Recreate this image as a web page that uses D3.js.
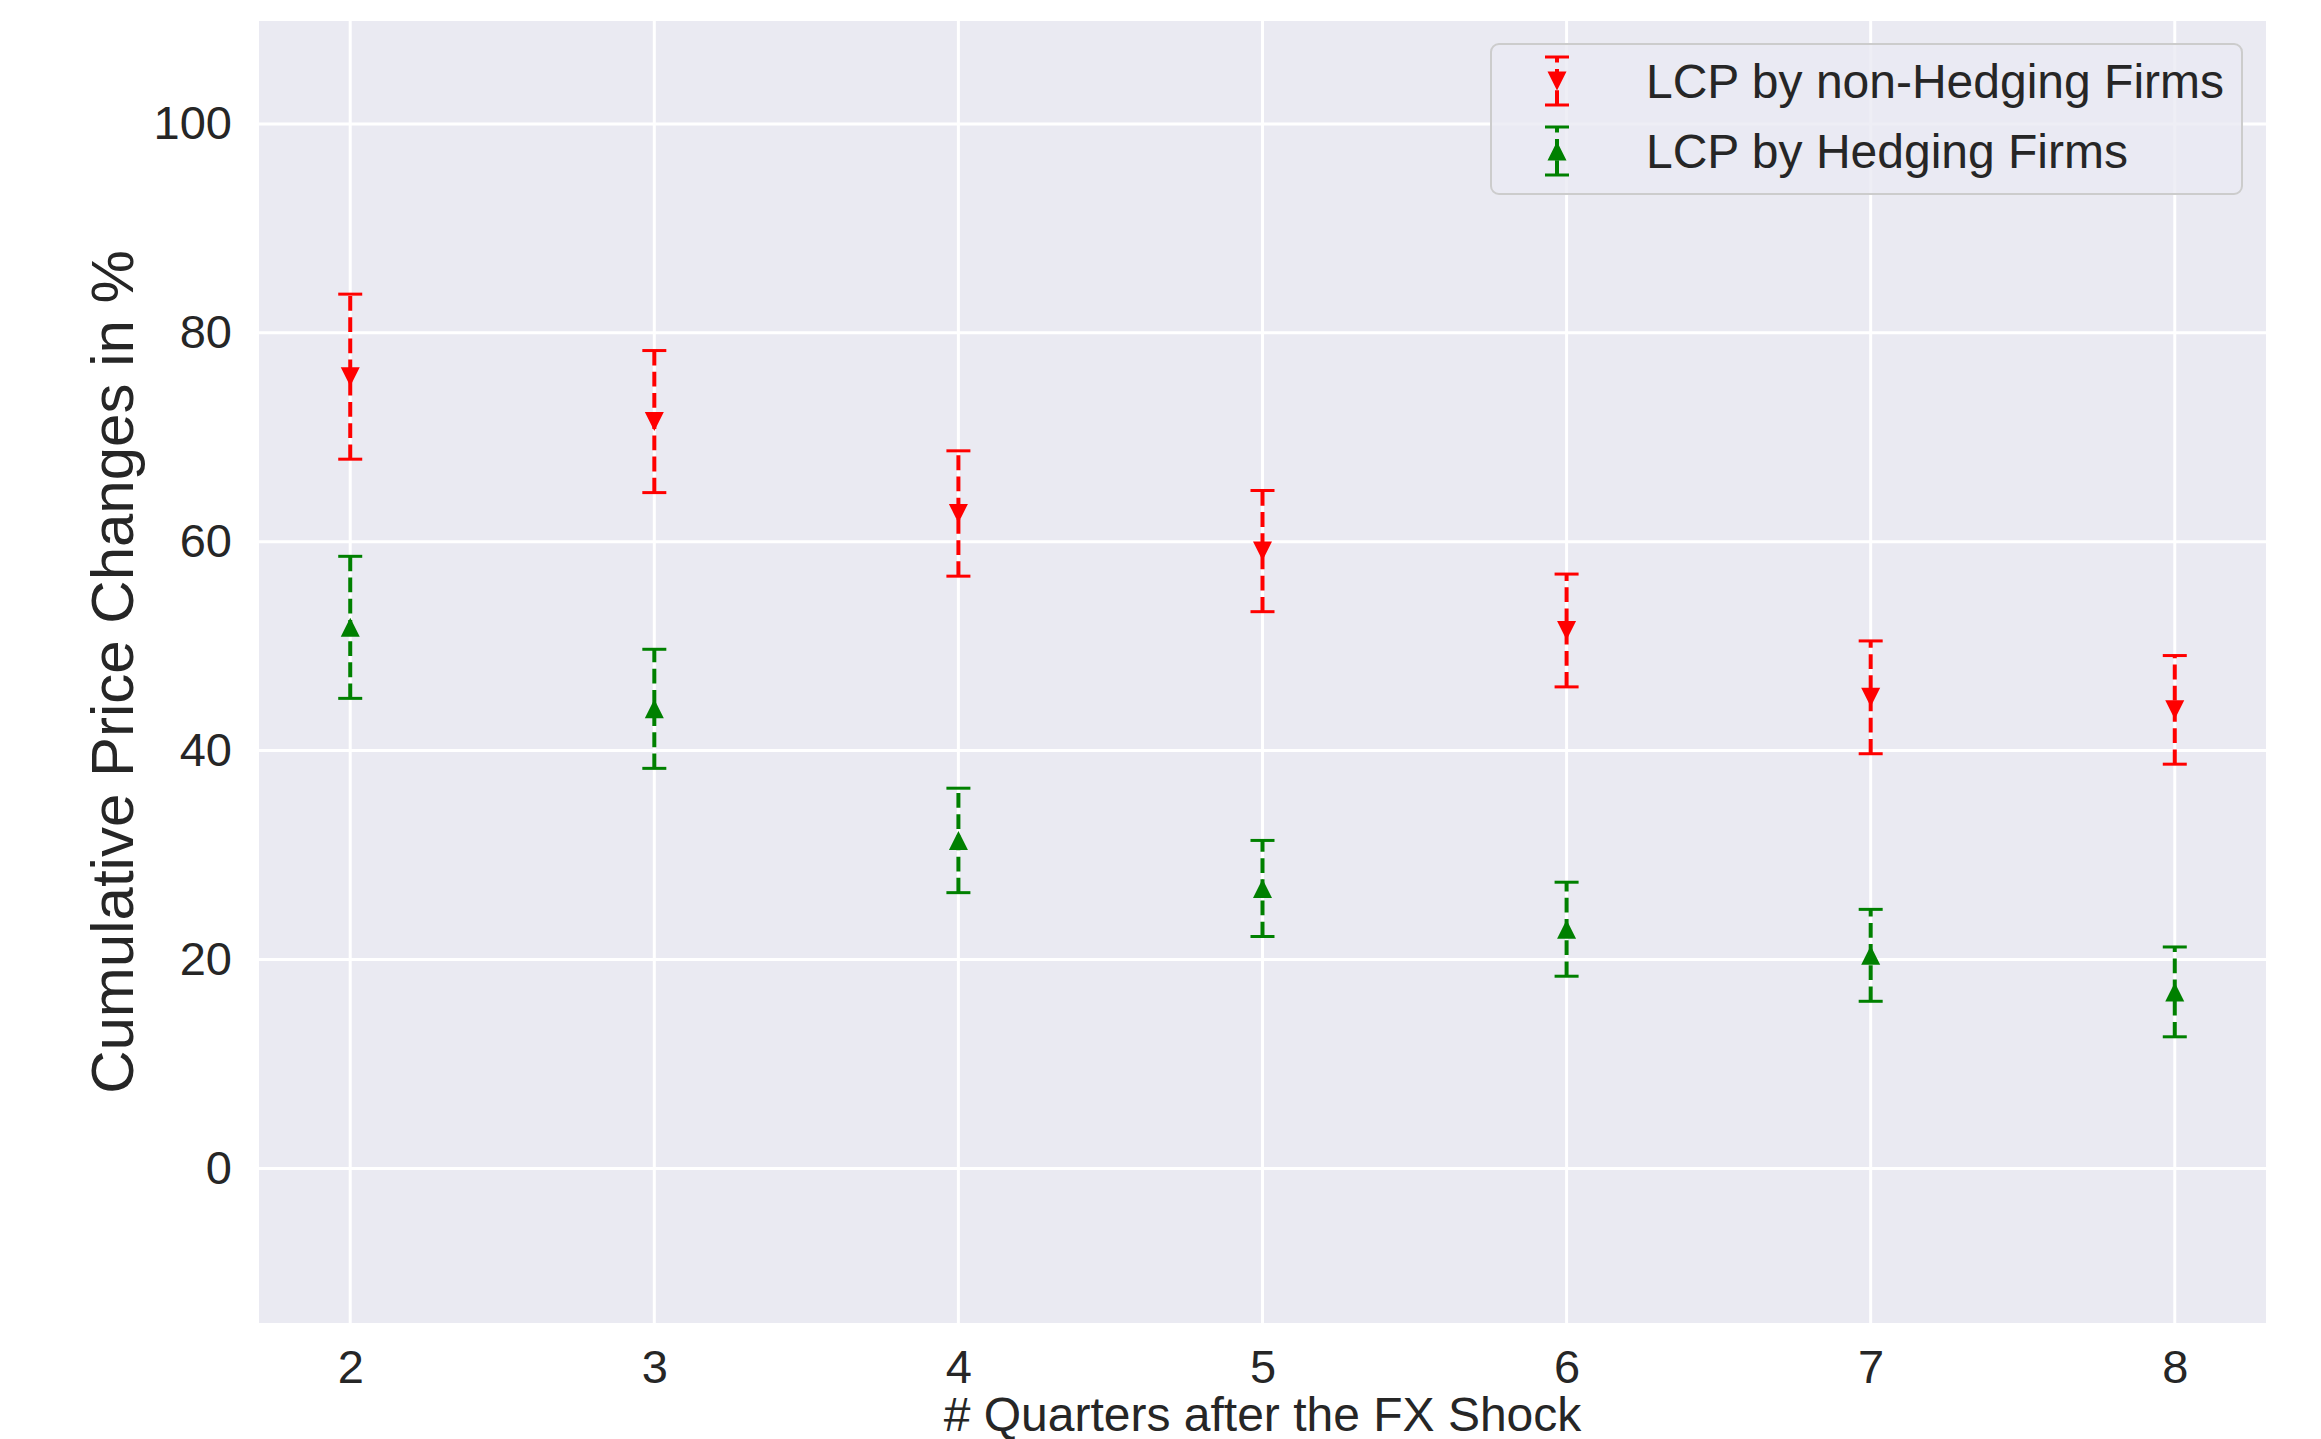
<!DOCTYPE html>
<html>
<head>
<meta charset="utf-8">
<script src="https://cdn.jsdelivr.net/npm/d3@7"></script>
<style>
  body { margin: 0; background: #fff; }
  text { font-family: "Liberation Sans", Arial, sans-serif; fill: #262626; }
</style>
</head>
<body>
<script>

// values
const quarters = [2, 3, 4, 5, 6, 7, 8];
const nonHedgingMean = [75.8, 71.5, 62.7, 59.1, 51.5, 45.1, 43.9];
const nonHedgingErr = [7.9, 6.8, 6.0, 5.8, 5.4, 5.4, 5.2];
const hedgingMean = [51.8, 44.0, 31.4, 26.8, 22.9, 20.4, 16.9];
const hedgingErr = [6.8, 5.7, 5.0, 4.6, 4.5, 4.4, 4.3];
const yTicks = [0, 20, 40, 60, 80, 100];
const seriesNames = ["LCP by non-Hedging Firms", "LCP by Hedging Firms"];
const seriesColors = ["#ff0000", "#008000"];

let margin = { top: 21, right: 55, bottom: 116, left: 259 };
let width = 2321 - margin.left - margin.right;
let height = 1439 - margin.top - margin.bottom;

let x = d3.scaleLinear().domain([1.7, 8.3]).range([0, width]);
let y = d3.scaleLinear().domain([-14.8, 109.85]).range([height, 0]);

let series = [
  { name: seriesNames[0], color: seriesColors[0], dir: "down",
    points: quarters.map((q, i) => ({ x: q, y: nonHedgingMean[i], err: nonHedgingErr[i] })) },
  { name: seriesNames[1], color: seriesColors[1], dir: "up",
    points: quarters.map((q, i) => ({ x: q, y: hedgingMean[i], err: hedgingErr[i] })) }
];

let svg = d3.select("body").append("svg")
    .attr("width", 2321)
    .attr("height", 1439)
  .append("g")
    .attr("transform", `translate(${margin.left},${margin.top})`);

svg.append("rect")
    .attr("width", width)
    .attr("height", height)
    .attr("fill", "#eaeaf2");

// grid
svg.append("g").selectAll("line").data(yTicks)
  .enter().append("line")
    .attr("x1", 0).attr("x2", width)
    .attr("y1", d => y(d)).attr("y2", d => y(d))
    .attr("stroke", "#fff").attr("stroke-width", 3);
svg.append("g").selectAll("line").data(quarters)
  .enter().append("line")
    .attr("y1", 0).attr("y2", height)
    .attr("x1", d => x(d)).attr("x2", d => x(d))
    .attr("stroke", "#fff").attr("stroke-width", 3);

// axes (labels only)
let xAxis = svg.append("g")
    .attr("transform", `translate(0,${height})`)
    .call(d3.axisBottom(x).tickValues(quarters).tickFormat(d3.format("d")).tickSize(0).tickPadding(27));
let yAxis = svg.append("g")
    .call(d3.axisLeft(y).tickValues(yTicks).tickFormat(d3.format("d")).tickSize(0).tickPadding(27));
for (let ax of [xAxis, yAxis]) {
  ax.select(".domain").remove();
  ax.selectAll("text")
      .style("font-size", "47px")
      .style("font-family", "'Liberation Sans', Arial, sans-serif")
      .attr("fill", "#262626");
}

svg.append("text")
    .attr("x", width / 2)
    .attr("y", height + 108)
    .style("text-anchor", "middle")
    .style("font-size", "48px")
    .text("# Quarters after the FX Shock");

svg.append("text")
    .attr("transform", `translate(${133 - margin.left},${height / 2}) rotate(-90)`)
    .style("text-anchor", "middle")
    .style("font-size", "60px")
    .text("Cumulative Price Changes in %");

function triangle(dir, r) {
  return dir === "down"
    ? `M0,${r} L${-r},${-r} L${r},${-r} Z`
    : `M0,${-r} L${-r},${r} L${r},${r} Z`;
}

function drawErrorBar(g, cx, yLow, yHigh, cy, s) {
  g.append("line")
      .attr("x1", cx).attr("x2", cx)
      .attr("y1", yLow).attr("y2", yHigh)
      .attr("stroke", s.color)
      .attr("stroke-width", 4)
      .attr("stroke-dasharray", "14.8,6.4");
  for (let cap of [yLow, yHigh]) {
    g.append("line")
        .attr("x1", cx - 12).attr("x2", cx + 12)
        .attr("y1", cap).attr("y2", cap)
        .attr("stroke", s.color)
        .attr("stroke-width", 3);
  }
  g.append("path")
      .attr("d", triangle(s.dir, 9.5))
      .attr("transform", `translate(${cx},${cy})`)
      .attr("fill", s.color);
}

for (let s of series) {
  let g = svg.append("g").attr("class", "series");
  for (let p of s.points) {
    drawErrorBar(g, x(p.x), y(p.y - p.err), y(p.y + p.err), y(p.y), s);
  }
}

// legend
let legend = svg.append("g")
    .attr("transform", `translate(${1491 - margin.left},${44 - margin.top})`);
legend.append("rect")
    .attr("width", 751)
    .attr("height", 150)
    .attr("rx", 8)
    .attr("fill", "#eaeaf2")
    .attr("fill-opacity", 0.8)
    .attr("stroke", "#cccccc")
    .attr("stroke-width", 2);

series.forEach((s, i) => {
  let cy = 37 + i * 70;
  let row = legend.append("g");
  drawErrorBar(row, 66, cy + 24, cy - 24, cy, s);
  row.append("text")
      .attr("x", 155)
      .attr("y", cy)
      .attr("dy", "0.35em")
      .style("font-size", "48px")
      .text(s.name);
});

</script>
</body>
</html>
